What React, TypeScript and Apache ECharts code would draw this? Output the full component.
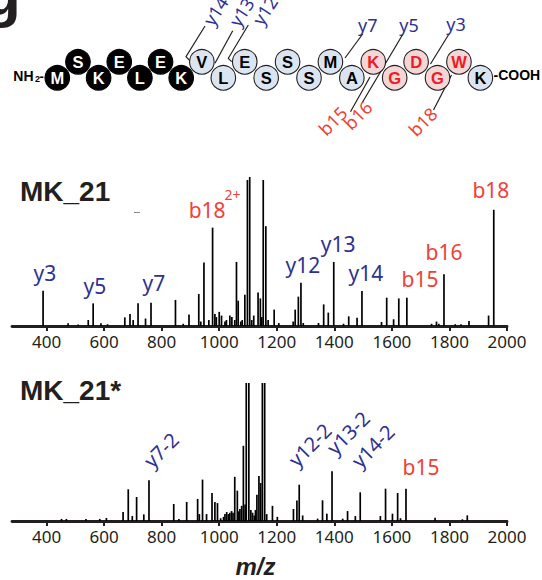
import React, { useEffect, useRef } from "react";
import * as echarts from "echarts";

// ---------- data ----------
const xTicks = [400, 600, 800, 1000, 1200, 1400, 1600, 1800, 2000];

const topMz = [388, 475, 510, 545, 562, 589, 612, 672, 690, 701, 718, 744, 763, 848, 875, 895, 929, 936, 947, 964, 977, 985, 990, 1000, 1008, 1020, 1025, 1037, 1044, 1054, 1060, 1066, 1075, 1080, 1089, 1098, 1106, 1113, 1120, 1135, 1143, 1148, 1153, 1162, 1170, 1191, 1207, 1257, 1264, 1275, 1284, 1292, 1345, 1363, 1379, 1398, 1432, 1450, 1479, 1496, 1564, 1582, 1606, 1624, 1652, 1738, 1755, 1763, 1781, 1820, 1840, 1868, 1936, 1954];
const topInt = [23.7, 1.8, 1.0, 4, 15.2, 1.8, 1.2, 5.8, 8, 4, 15.2, 5, 15.6, 17.5, 1.5, 7.8, 21.5, 3, 42.7, 4, 66, 8, 6, 9.5, 7, 3, 4, 7, 6, 4, 43, 17, 3, 4, 21, 98, 100, 4, 7, 22.5, 18.5, 6, 98, 67, 4, 11, 2, 3, 11, 19.7, 29, 2, 2, 14.5, 9, 43, 1.5, 6.5, 5.5, 23.5, 2.7, 19, 4.5, 18.5, 19, 1.5, 3, 1.5, 34.7, 1.2, 1.2, 3.4, 7, 78];

const botMz = [452, 469, 537, 585, 608, 666, 684, 698, 713, 738, 756, 842, 860, 887, 925, 931, 942, 956, 975, 985, 994, 1005, 1015, 1020, 1026, 1032, 1037, 1043, 1048, 1054, 1063, 1068, 1072, 1078, 1084, 1090, 1094, 1103, 1110, 1116, 1122, 1126, 1131, 1138, 1144, 1150, 1158, 1165, 1185, 1202, 1258, 1270, 1278, 1290, 1342, 1359, 1374, 1392, 1429, 1446, 1473, 1490, 1560, 1578, 1602, 1620, 1630, 1649, 1750, 1845, 1862];
const botInt = [1.5, 1.5, 1.5, 1.5, 2.2, 6.5, 23, 3.6, 17.4, 4.8, 29.5, 12.3, 1.5, 13.8, 16, 5, 30, 5, 20.3, 13.8, 13, 2, 3, 5, 6.5, 5, 6, 7.2, 6, 32, 22, 7, 8.7, 11, 54.5, 12, 100, 100, 8, 6, 4, 8, 19, 32.6, 27.5, 100, 100, 5, 11, 3, 8.7, 14.8, 26.3, 4, 1.7, 15, 5.3, 36, 1.7, 7.2, 3.6, 20.8, 3.6, 23.4, 5.3, 20.3, 2, 23.4, 2.4, 1.2, 4.1];

// peak annotations: text, m/z, height (axis units)
const topLabelText = ["y3", "y5", "y7", "b18", "2+", "y12", "y13", "y14", "b15", "b16", "b18"];
const topLabelMz = [394, 568, 773, 958, 1046, 1291, 1413, 1510, 1698, 1781, 1944];
const topLabelY = [35.6, 26.8, 28.9, 77.9, 88.5, 40.9, 55, 35.6, 31.5, 49.7, 91.3];
const topLabelKind = ["y", "y", "y", "b", "b", "y", "y", "y", "b", "b", "b"];

const botLabelText = ["y7-2", "y12-2", "y13-2", "y14-2", "b15"];
const botLabelMz = [798, 1315, 1448, 1534, 1701];
const botLabelY = [51.4, 55.1, 63.8, 54.3, 39.1];
const botLabelKind = ["y", "y", "y", "y", "b"];

// peptide
const sequence = ["M", "S", "K", "E", "L", "E", "K", "V", "L", "E", "S", "S", "S", "M", "A", "K", "G", "D", "G", "W", "K"];
const residueGroup = ["n", "n", "n", "n", "n", "n", "n", "v", "v", "v", "v", "v", "v", "v", "v", "r", "r", "r", "r", "r", "v"];

// ---------- styles ----------
const BLUE = "#2e3192";
const RED = "#ef4136";
const INK = "#231f20";
const SANS = "'Noto Sans', sans-serif";
const ARIAL = "'Liberation Sans', Arial, sans-serif";

function residueX(i: number) {
  return i <= 7 ? 57.3 + i * 20.65 : 201.9 + (i - 7) * 21.42;
}
function residueY(i: number) {
  return i % 2 === 0 ? 77.8 : 61.8;
}

const groupStyle: Record<string, { fill: string; stroke: string; text: string }> = {
  n: { fill: "#000000", stroke: "#000000", text: "#ffffff" },
  v: { fill: "#dbe5f1", stroke: INK, text: "#000000" },
  r: { fill: "#f4d6d6", stroke: INK, text: "#ec1c24" },
};

function peptideGraphics(): any[] {
  const els: any[] = [];
  const line = (pts: number[][]) => ({
    type: "polyline",
    shape: { points: pts },
    style: { stroke: INK, lineWidth: 1.2, fill: null },
    z: 5,
  });
  // cleavage markers
  els.push(line([[205, 26], [186, 56.7], [190.7, 61.7]]));
  els.push(line([[232.7, 30.7], [215, 63.3]]));
  els.push(line([[248.3, 25], [228.3, 58.3], [231.7, 61.7]]));
  els.push(line([[362.7, 34], [345, 58]]));
  els.push(line([[403, 34], [362, 103]]));
  els.push(line([[350.5, 111.7], [370, 77]]));
  els.push(line([[449, 34], [430.5, 64]]));
  els.push(line([[433.5, 110], [451.5, 75]]));

  sequence.forEach((aa, i) => {
    const g = groupStyle[residueGroup[i]];
    const cx = residueX(i);
    const cy = residueY(i);
    els.push({
      type: "circle",
      shape: { cx, cy, r: 12.3 },
      style: { fill: g.fill, stroke: g.stroke, lineWidth: 1.1 },
      z: 10,
    });
    els.push({
      type: "text",
      x: cx,
      y: cy + 0.5,
      style: { text: aa, fill: g.text, font: `bold 16.5px ${ARIAL}`, align: "center", verticalAlign: "middle" },
      z: 11,
    });
  });

  const t = (text: string, x: number, y: number, color: string, rot = 0, size = 18) => ({
    type: "text",
    x,
    y,
    rotation: rot,
    style: { text, fill: color, font: `${size}px ${SANS}`, align: "center", verticalAlign: "middle" },
    z: 12,
  });
  els.push(t("y14", 215.5, 11, BLUE, 0.995));
  els.push(t("y13", 241.5, 12, BLUE, 0.995));
  els.push(t("y12", 264.8, 10.5, BLUE, 0.995));
  els.push(t("y7", 367.7, 25, BLUE));
  els.push(t("y5", 409, 25, BLUE));
  els.push(t("y3", 456, 24, BLUE));
  els.push(t("b15", 332.7, 120.8, RED, 0.785));
  els.push(t("b16", 357.7, 115, RED, 0.785));
  els.push(t("b18", 422.7, 121.7, RED, 0.785));

  // termini
  els.push({ type: "text", x: 13.3, y: 75.5, style: { text: "NH", fill: "#000", font: `bold 14px ${ARIAL}`, align: "left", verticalAlign: "middle" } });
  els.push({ type: "text", x: 35, y: 78.5, style: { text: "2", fill: "#000", font: `bold 9px ${ARIAL}`, align: "left", verticalAlign: "middle" } });
  els.push({ type: "text", x: 39.5, y: 76, style: { text: "-", fill: "#000", font: `bold 13px ${ARIAL}`, align: "left", verticalAlign: "middle" } });
  els.push({ type: "text", x: 493.5, y: 74.5, style: { text: "-COOH", fill: "#000", font: `bold 14px ${ARIAL}`, align: "left", verticalAlign: "middle" } });
  return els;
}

function labelSeries(texts: string[], mzs: number[], ys: number[], kinds: string[], idx: number, rotated: boolean) {
  return {
    type: "scatter",
    xAxisIndex: idx,
    yAxisIndex: idx,
    symbolSize: 1,
    silent: true,
    itemStyle: { color: "rgba(0,0,0,0)", opacity: 1 },
    z: 20,
    data: texts.map((tx, i) => {
      const isSup = tx === "2+";
      const rot = rotated && kinds[i] === "y" ? 45 : 0;
      return {
        name: tx,
        value: [mzs[i], ys[i]],
        label: {
          show: true,
          position: "inside",
          formatter: tx,
          color: kinds[i] === "y" ? BLUE : RED,
          opacity: 1,
          fontFamily: SANS,
          fontSize: isSup ? 14 : rotated && kinds[i] === "y" ? 20 : 21,
          rotate: rot,
          align: "center",
          verticalAlign: "middle",
        },
      };
    }),
  };
}

function xAxisCfg(gridIndex: number) {
  return {
    type: "value",
    gridIndex,
    min: 280,
    max: 2000,
    axisLine: { show: true, onZero: false, lineStyle: { color: INK, width: 2.8 } },
    axisTick: { show: true, length: 5, lineStyle: { color: INK, width: 2 }, customValues: xTicks },
    axisLabel: {
      show: true,
      customValues: xTicks,
      formatter: (v: number) => String(v),
      fontSize: 17,
      color: INK,
      margin: 7,
      fontFamily: SANS,
    },
    splitLine: { show: false },
  };
}

function yAxisCfg(gridIndex: number) {
  return { type: "value", gridIndex, min: 0, max: 100, show: false, splitLine: { show: false } };
}

function barSeries(mz: number[], inten: number[], idx: number) {
  return {
    type: "bar",
    xAxisIndex: idx,
    yAxisIndex: idx,
    barWidth: 1.7,
    silent: true,
    itemStyle: { color: "#000000" },
    data: mz.map((m, i) => [m, inten[i]]),
  };
}

export default function App() {
  const ref = useRef<HTMLDivElement>(null);
  useEffect(() => {
    if (!ref.current) return;
    const chart = echarts.init(ref.current, null, { renderer: "svg", width: 542, height: 580 });
    const option: any = {
      animation: false,
      backgroundColor: "#ffffff",
      grid: [
        { left: 12, width: 495, top: 177, height: 149, containLabel: false, outerBoundsMode: "none" },
        { left: 12, width: 495, top: 383, height: 138, containLabel: false, outerBoundsMode: "none" },
      ],
      xAxis: [xAxisCfg(0), xAxisCfg(1)],
      yAxis: [yAxisCfg(0), yAxisCfg(1)],
      series: [
        barSeries(topMz, topInt, 0),
        barSeries(botMz, botInt, 1),
        labelSeries(topLabelText, topLabelMz, topLabelY, topLabelKind, 0, false),
        labelSeries(botLabelText, botLabelMz, botLabelY, botLabelKind, 1, true),
      ],
      graphic: [
        { type: "text", x: -17, y: -7, style: { text: "g", fill: INK, font: `bold 62px ${ARIAL}`, align: "left", verticalAlign: "middle" } },
        ...peptideGraphics(),
        { type: "text", x: 20, y: 191, style: { text: "MK_21", fill: INK, font: `bold 28px ${ARIAL}`, align: "left", verticalAlign: "middle" } },
        { type: "text", x: 20, y: 390, style: { text: "MK_21*", fill: INK, font: `bold 28px ${ARIAL}`, align: "left", verticalAlign: "middle" } },
        { type: "line", shape: { x1: 134, y1: 212.5, x2: 140, y2: 212.5 }, style: { stroke: "#8a8a8a", lineWidth: 1 } },
        { type: "text", x: 255.5, y: 566.5, style: { text: "m/z", fill: INK, font: `italic bold 24px ${ARIAL}`, align: "center", verticalAlign: "middle" } },
      ],
    };
    chart.setOption(option);
    return () => chart.dispose();
  }, []);
  return <div ref={ref} style={{ position: "fixed", left: 0, top: 0, width: 542, height: 580, background: "#fff" }} />;
}
